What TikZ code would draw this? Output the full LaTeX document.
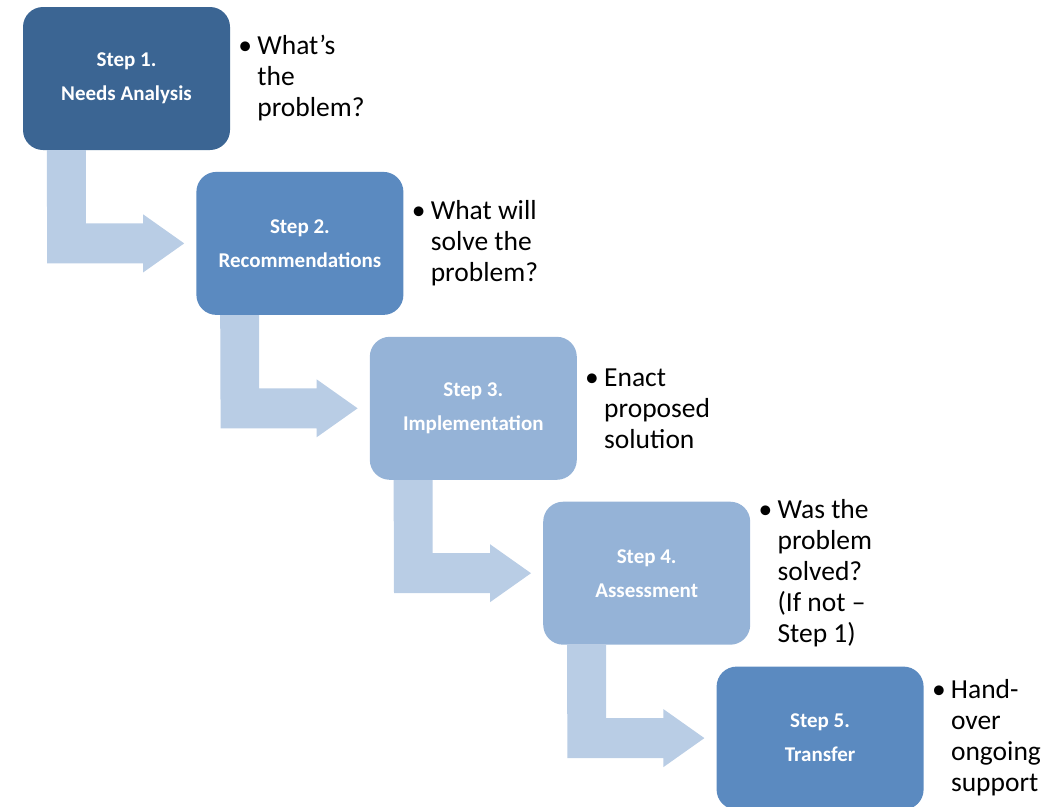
\documentclass[tikz,border=0pt]{standalone}
\usepackage{fontspec}
\setmainfont{Carlito}
\usetikzlibrary{positioning,calc}
\definecolor{darkblue}{HTML}{3B6593}
\definecolor{midblue}{HTML}{5B8AC0}
\definecolor{lightblue}{HTML}{95B3D7}
\definecolor{arrowblue}{HTML}{B9CDE5}
\newcommand{\notebullet}{\makebox[19pt][l]{\textbullet}}
\newcommand{\noteindent}{\hspace*{19pt}}

\begin{document}
\begin{tikzpicture}[x=1pt,y=1pt]
\tikzstyle{stage}=[shape=rectangle,rounded corners=20pt,minimum width=207pt,minimum height=143pt,inner sep=0pt,text=white,align=center,font=\fontsize{21}{34}\selectfont\bfseries]
\tikzstyle{note}=[inner sep=0pt,align=left,text=black,font=\fontsize{27.5}{31}\selectfont]
\tikzstyle{bent}=[fill=arrowblue]

\useasboundingbox (0,0) rectangle (1063,-806);

\node[stage,fill=darkblue]   (S1) at (126.5,-78.5) {Step 1.\\Needs Analysis};
\node[stage,fill=midblue]    (S2) [below right=21.5pt and -34pt of S1] {Step 2.\\Recommendations};
\node[stage,fill=lightblue]  (S3) [below right=21.5pt and -34pt of S2] {Step 3.\\Implementation};
\node[stage,fill=lightblue]  (S4) [below right=21.5pt and -34pt of S3] {Step 4.\\Assessment};
\node[stage,fill=midblue]    (S5) [below right=21.5pt and -34pt of S4] {Step 5.\\Transfer};

\node[note] (N1) [right=8pt of S1] {\notebullet What's\\\noteindent the\\\noteindent problem?};
\node[note] (N2) [right=8pt of S2] {\notebullet What will\\\noteindent solve the\\\noteindent problem?};
\node[note] (N3) [right=8pt of S3] {\notebullet Enact\\\noteindent proposed\\\noteindent solution};
\node[note] (N4) [right=8pt of S4] {\notebullet Was the\\\noteindent problem\\\noteindent solved?\\\noteindent (If not –\\\noteindent Step 1)};
\node[note] (N5) [right=8pt of S5] {\notebullet Hand-\\\noteindent over\\\noteindent ongoing\\\noteindent support};

\foreach \a/\b in {S1/S2,S2/S3,S3/S4,S4/S5}
  \fill[bent] ($(\a.south west)+(24,0)$) -- ($(\a.south west)+(63,0)$) |- ($(\b.west)+(-53,20)$)
    -- ($(\b.west)+(-53,29)$) -- ($(\b.west)+(-12,0)$) -- ($(\b.west)+(-53,-29)$)
    -- ($(\b.west)+(-53,-20)$) -- ($(\b.west)+(-149,-20)$) -- cycle;
\end{tikzpicture}
\end{document}
